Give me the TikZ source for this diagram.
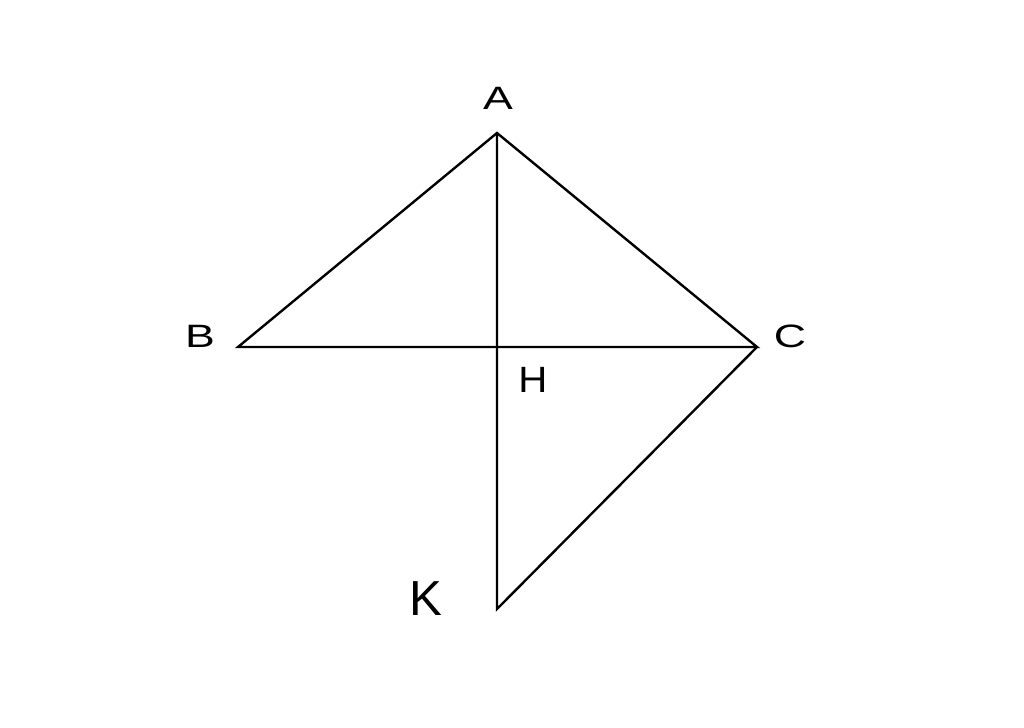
\documentclass[tikz,border=0pt]{standalone}
\usepackage{fontspec}
\setmainfont{Liberation Sans}
\begin{document}
\begin{tikzpicture}[x=0.025cm, y=-0.025cm, line width=1.7pt,
        every node/.style={inner sep=0pt},
        vlabel/.style={font=\fontsize{23}{27}\selectfont, xscale=1.38}]
            \useasboundingbox (0, 0) rectangle (1024, 728);

            \coordinate (A) at (497, 133);
            \coordinate (B) at (238, 347);
            \coordinate (C) at (757, 347);
            \coordinate (H) at (497, 347);
            \coordinate (K) at (497, 609);

            \node[vlabel] (lA) at (498, 98) {A};
            \node[vlabel] (lB) at (200, 336) {B};
            \node[vlabel] (lC) at (790, 336) {C};
            \node[font=\fontsize{26}{30}\selectfont, xscale=1.1] (lH) at (533, 380) {H};
            \node[font=\fontsize{35}{40}\selectfont] (lK) at (426, 599) {K};

            \draw[line join=miter] (B) -- (A) -- (C) -- cycle;
            \draw (A) -- (K) -- (C);
        \end{tikzpicture}
\end{document}
